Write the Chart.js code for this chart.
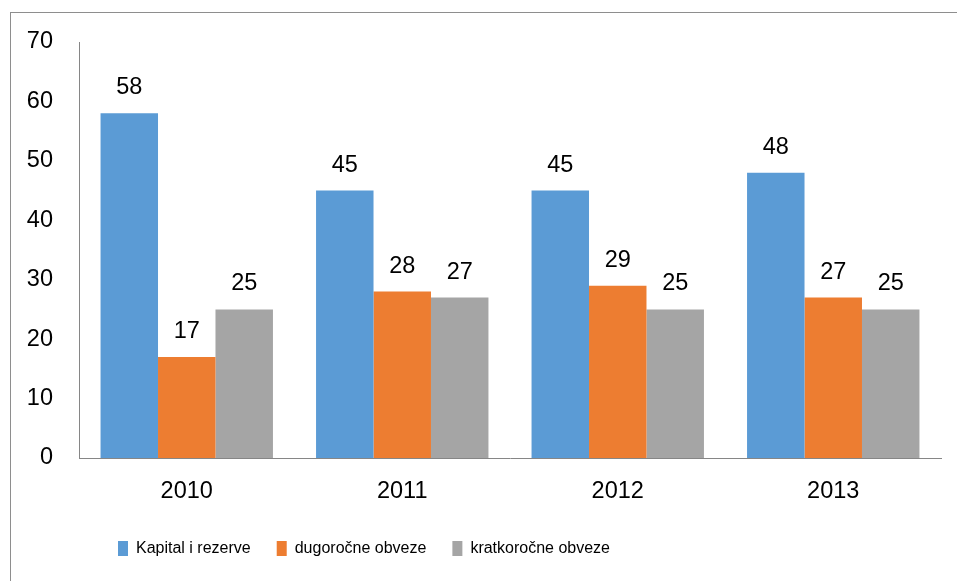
<!DOCTYPE html>
<html>
<head>
<meta charset="utf-8">
<script src="https://cdn.jsdelivr.net/npm/chart.js@4/dist/chart.umd.min.js"></script>
<style>
  html, body { margin: 0; padding: 0; background: #fff; overflow: hidden; }
  #wrap { position: relative; width: 957px; height: 581px; }
  #frame { position: absolute; left: 10px; top: 12px; width: 1000px; height: 1000px; border: 1px solid #8e8e8e; }
  canvas { position: absolute; left: 0; top: 0; }
</style>
</head>
<body>
<div id="wrap">
  <div id="frame"></div>
  <canvas id="chart" width="957" height="581"></canvas>
</div>
<script>
const years = ['2010', '2011', '2012', '2013'];
const kapital = [58, 45, 45, 48];
const dugorocne = [17, 28, 29, 27];
const kratkorocne = [25, 27, 25, 25];
const seriesNames = ['Kapital i rezerve', 'dugoročne obveze', 'kratkoročne obveze'];
const seriesColors = ['#5B9BD5', '#ED7D31', '#A5A5A5'];
const yTicks = [0, 10, 20, 30, 40, 50, 60, 70];

const tickFont = { family: "'Liberation Sans', Arial, sans-serif", size: 23.5 };
const legendFont = { family: "'Liberation Sans', Arial, sans-serif", size: 16 };

// value labels above each bar
const barLabels = {
  id: 'barLabels',
  afterDatasetsDraw(chart) {
    const ctx = chart.ctx;
    ctx.save();
    ctx.font = `${tickFont.size}px ${tickFont.family}`;
    ctx.fillStyle = '#000';
    ctx.textAlign = 'center';
    ctx.textBaseline = 'alphabetic';
    chart.data.datasets.forEach((ds, i) => {
      chart.getDatasetMeta(i).data.forEach((bar, j) => {
        ctx.fillText(ds.data[j], bar.x, bar.y - 19);
      });
    });
    ctx.restore();
  }
};

// legend sits left of centre in the original
const legendShift = {
  id: 'legendShift',
  afterLayout(chart) {
    const pad = chart.options.plugins.legend.labels.padding;
    chart.legend.left = 118 - pad;
  }
};

new Chart(document.getElementById('chart'), {
  type: 'bar',
  data: {
    labels: years,
    datasets: [kapital, dugorocne, kratkorocne].map((d, i) => ({
      label: seriesNames[i],
      data: d,
      backgroundColor: seriesColors[i],
      borderWidth: 0,
      categoryPercentage: 0.8,
      barPercentage: 1.0
    }))
  },
  options: {
    responsive: false,
    animation: false,
    layout: { padding: { left: 0, top: 42, right: 16, bottom: 14.5 } },
    scales: {
      x: {
        grid: { display: false, drawTicks: false },
        border: { display: true, color: '#868686', width: 1 },
        ticks: { color: '#000', font: tickFont, padding: 19 },
        afterFit: s => { s.height = 56.5; }
      },
      y: {
        min: 0,
        max: 70,
        afterBuildTicks: s => { s.ticks = yTicks.map(v => ({ value: v })); },
        grid: { display: false, drawTicks: false },
        border: { display: true, color: '#868686', width: 1 },
        ticks: { color: '#000', font: tickFont, padding: 26 },
        afterFit: s => { s.width = 79; }
      }
    },
    plugins: {
      tooltip: { enabled: false },
      legend: {
        position: 'bottom',
        align: 'start',
        labels: {
          color: '#000',
          font: legendFont,
          boxWidth: 10,
          boxHeight: 15,
          padding: 26
        }
      }
    }
  },
  plugins: [barLabels, legendShift]
});
</script>
</body>
</html>
